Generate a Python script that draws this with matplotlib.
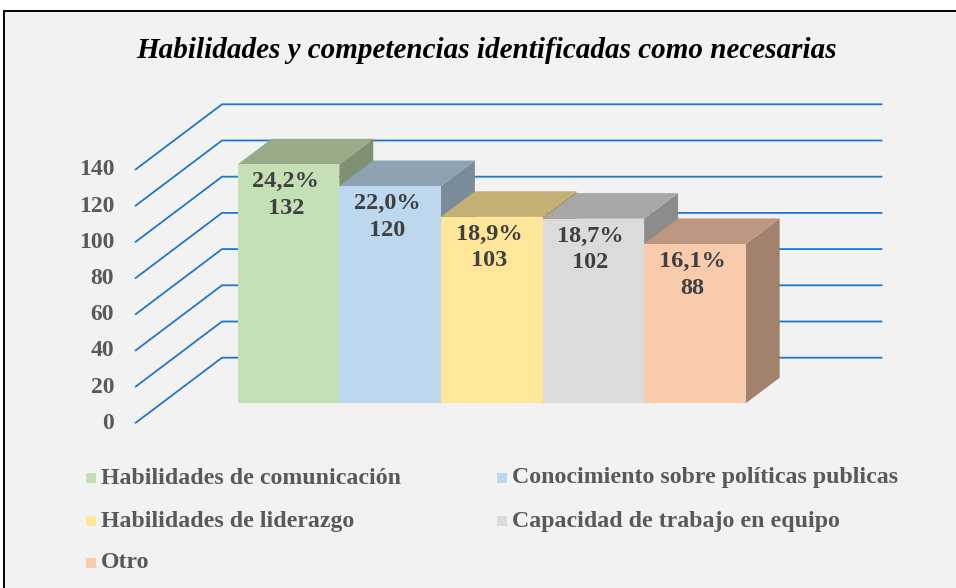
import matplotlib
matplotlib.use("Agg")
import matplotlib.pyplot as plt
from matplotlib.patches import Polygon, Rectangle

# data
categories = [
    "Habilidades de comunicación",
    "Conocimiento sobre políticas publicas",
    "Habilidades de liderazgo",
    "Capacidad de trabajo en equipo",
    "Otro",
]
counts = [132, 120, 103, 102, 88]
percents = ["24,2%", "22,0%", "18,9%", "18,7%", "16,1%"]
y_ticks = [0, 20, 40, 60, 80, 100, 120, 140]

front_colors = ["#C5E0B4", "#BDD7EE", "#FFE699", "#DBDBDB", "#F8CBAD"]
top_colors = ["#97AB88", "#8EA2B3", "#C4AF74", "#A8A8A8", "#BD9780"]
side_colors = ["#7F9170", "#7A8B99", "#A8955F", "#8C8C8C", "#A2826C"]

FONT = "Liberation Serif"
W, H = 956, 588

# pixel layout of the 3d box (fig pixels, y from bottom)
X0_PX = 135.0      # front-left corner of floor
BAR_PX = 101.6     # bar width in px = 1 x-unit
V0_PX = 164.7      # value 0 at front plane
V_PX = 1.81        # px per value unit
DX = 87.0 / BAR_PX  # full depth, x-units
DV = 65.6 / V_PX    # full depth, value units
FLOOR_W = 6.5
GAP = 0.75
D0, D1 = 0.305, 0.695  # bar depth span
GRID_COLOR = "#1F78C8"


def P(x, v, d):
    return (x + d * DX, v + d * DV)


fig = plt.figure(figsize=(W / 100, H / 100), dpi=100)
fig.patch.set_facecolor("white")
fig.add_artist(Rectangle((4 / W, -0.02), 1.1, (H - 11) / H + 0.02,
                         transform=fig.transFigure, facecolor="#F2F2F2",
                         edgecolor="black", lw=1.4, zorder=0))

ax = fig.add_axes([0, 0, 1, 1])
ax.set_xlim(-X0_PX / BAR_PX, (W - X0_PX) / BAR_PX)
ax.set_ylim(-V0_PX / V_PX, (H - V0_PX) / V_PX)
ax.axis("off")
ax.patch.set_alpha(0)

# gridlines: diagonal on left wall + horizontal on back wall
for t in y_ticks:
    pts = [P(0, t, 0), P(0, t, 1), P(FLOOR_W, t, 1)]
    ax.plot([p[0] for p in pts], [p[1] for p in pts], color=GRID_COLOR,
            lw=1.3, solid_capstyle="butt", zorder=1)
    ax.annotate(str(t), xy=P(0, t, 0), xytext=(-15, 0),
                textcoords="offset points", ha="right", va="center",
                fontsize=17, fontweight="bold", family=FONT, color="#595959")

# bars
for i, (v, fc, tc, sc) in enumerate(zip(counts, front_colors, top_colors, side_colors)):
    x0 = GAP + i
    x1 = x0 + 1
    z = 2 + i
    front = [P(x0, 0, D0), P(x1, 0, D0), P(x1, v, D0), P(x0, v, D0)]
    top = [P(x0, v, D0), P(x1, v, D0), P(x1, v, D1), P(x0, v, D1)]
    side = [P(x1, 0, D0), P(x1, 0, D1), P(x1, v, D1), P(x1, v, D0)]
    ax.add_patch(Polygon(side, closed=True, facecolor=sc, edgecolor="none", zorder=z))
    ax.add_patch(Polygon(top, closed=True, facecolor=tc, edgecolor="none", zorder=z))
    ax.add_patch(Polygon(front, closed=True, facecolor=fc, edgecolor="none", zorder=z))
    ax.annotate(f"{percents[i]}\n{v}", xy=P(x0 + 0.5, v, D0), xytext=(-2, -5),
                textcoords="offset points", ha="center", va="top",
                fontsize=17.5, fontweight="bold", family=FONT, color="#404040",
                linespacing=1.35, zorder=10)

# title
fig.text(487 / W, 1 - 51 / H, "Habilidades y competencias identificadas como necesarias",
         ha="center", va="center", fontsize=21, fontweight="bold", style="italic",
         family=FONT, color="black")

# legend (two columns)
col_x = [86, 497]
row_y = [478, 521, 563]
for i, (name, fc) in enumerate(zip(categories, front_colors)):
    cx = col_x[i % 2]
    cy = row_y[i // 2]
    fig.add_artist(Rectangle((cx / W, 1 - (cy + 5) / H), 10 / W, 10 / H,
                             transform=fig.transFigure, facecolor=fc,
                             edgecolor="none"))
    fig.text((cx + 15) / W, 1 - cy / H, name, ha="left", va="center",
             fontsize=17.2, fontweight="bold", family=FONT, color="#595959")

fig.savefig("out.png", dpi=100, facecolor=fig.get_facecolor())
